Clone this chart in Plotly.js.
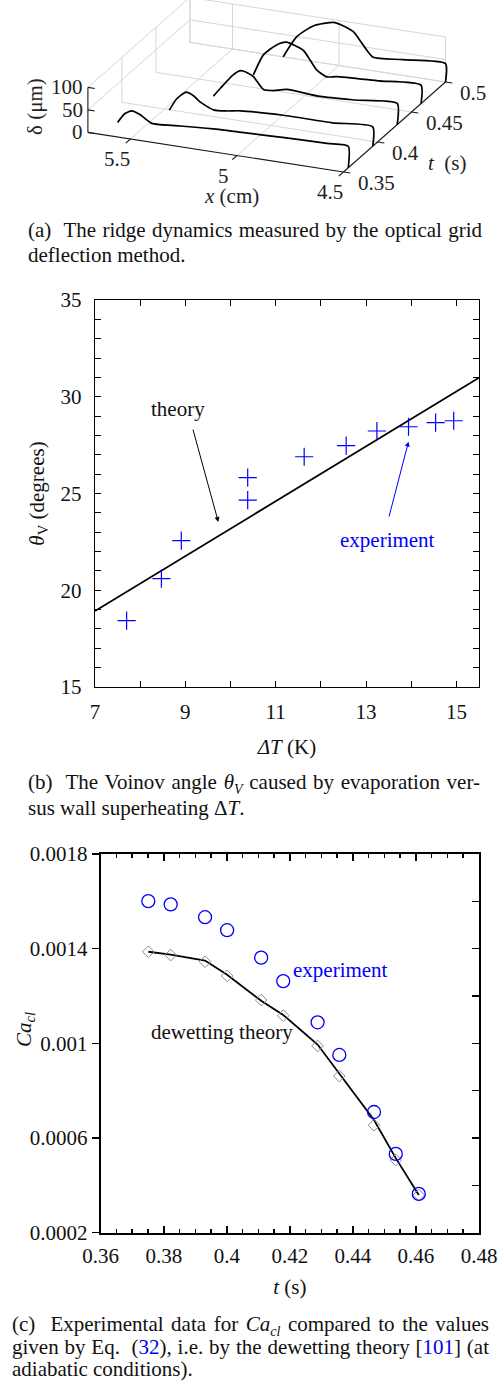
<!DOCTYPE html>
<html>
<head>
<meta charset="utf-8">
<script src="https://cdn.plot.ly/plotly-3.0.1.min.js"></script>
<style>
  html, body { margin: 0; padding: 0; background: #fff; }
  #wrap { position: relative; width: 500px; height: 1389px; }
  #chart { position: absolute; left: 0; top: 0; width: 500px; height: 1389px; }
  .cap { position: absolute; font-family: "Liberation Serif", "Times New Roman", serif; font-size: 21px; color: #111; }
  .cap .ln { display: block; text-align: justify; text-align-last: justify; white-space: nowrap; }
  .cap .last { display: block; text-align: left; white-space: nowrap; }
  .cap sub { font-size: 14px; line-height: 0; }
  .blue { color: #0000ee; }
</style>
</head>
<body>
<div id="wrap">
  <div id="chart"></div>
  <div class="cap" style="left:28px; top:218px; width:454px; line-height:25px;">
    <span class="ln">(a)&nbsp; The ridge dynamics measured by the optical grid</span>
    <span class="last">deflection method.</span>
  </div>
  <div class="cap" style="left:28px; top:769px; width:452px; line-height:26px;">
    <span class="ln">(b)&nbsp; The Voinov angle <i>θ</i><sub><i>V</i></sub> caused by evaporation ver-</span>
    <span class="last">sus wall superheating Δ<i>T</i>.</span>
  </div>
  <div class="cap" style="left:12px; top:1313px; width:477px; line-height:22.5px;">
    <span class="ln">(c)&nbsp; Experimental data for <i>Ca<sub>cl</sub></i> compared to the values</span>
    <span class="ln">given by Eq.&nbsp; (<span class="blue">32</span>), i.e. by the dewetting theory [<span class="blue">101</span>] (at</span>
    <span class="last">adiabatic conditions).</span>
  </div>
</div>
<script>
// ---------- Panel (a): ridge profiles delta(x) at several times ----------
const ridgeTimes = [0.357, 0.393, 0.429, 0.464, 0.5];
const ridgeX1 = [5.583, 5.55, 5.517, 5.48, 5.446, 5.423, 5.384, 5.29, 5.134, 5.0, 4.8, 4.6, 4.5, 4.5];
const ridgeZ1 = [21, 43, 52, 47, 37, 31, 31, 35, 40, 42, 45, 47, 48, 0];
const ridgeX2 = [5.455, 5.42, 5.376, 5.34, 5.311, 5.248, 5.185, 5.123, 4.92, 4.69, 4.5, 4.5];
const ridgeZ2 = [10, 38, 56, 50, 39, 26, 28, 33, 38, 38, 43, 0];
const ridgeX3 = [5.363, 5.33, 5.27, 5.235, 5.2, 5.175, 5.128, 5.081, 5.019, 4.862, 4.7, 4.5, 4.5];
const ridgeZ3 = [0, 20, 54, 66, 63, 57, 32, 33, 40, 36, 40, 47, 0];
const ridgeX4 = [5.287, 5.24, 5.18, 5.133, 5.053, 5.02, 4.99, 4.943, 4.896, 4.7, 4.5, 4.5];
const ridgeZ4 = [6, 54, 80, 90, 78, 58, 39, 27, 31, 36, 41, 0];
const ridgeX5 = [5.262, 5.199, 5.121, 5.019, 4.933, 4.9, 4.87, 4.839, 4.7, 4.5, 4.5];
const ridgeZ5 = [0, 49, 79, 94, 80, 62, 44, 30, 35, 41, 0];
const ridgeXs = [ridgeX1, ridgeX2, ridgeX3, ridgeX4, ridgeX5];
const ridgeZs = [ridgeZ1, ridgeZ2, ridgeZ3, ridgeZ4, ridgeZ5];
const xRangeA = [4.5, 5.7];
const tRangeA = [0.35, 0.5];
const zRangeA = [0, 100];
const xTicksA = [4.5, 5, 5.5];
const xTickTextA = ['4.5', '5', '5.5'];
const tTicksA = [0.35, 0.4, 0.45, 0.5];
const tTickTextA = ['0.35', '0.4', '0.45', '0.5'];
const zTicksA = [0, 50, 100];
const zTickTextA = ['0', '50', '100'];

// ---------- Panel (b): Voinov angle vs superheating ----------
const dT_exp = [7.70, 8.47, 8.91, 10.38, 10.38, 11.63, 12.56, 13.24, 13.94, 14.54, 14.94];
const theta_exp = [18.43, 20.6, 22.56, 24.66, 25.82, 26.9, 27.47, 28.23, 28.45, 28.66, 28.76];
const dT_theory = [7, 15.5];
const theta_theory = [18.93, 30.98];
const xTicksB = [7, 9, 11, 13, 15];
const yTicksB = [15, 20, 25, 30, 35];

// ---------- Panel (c): Ca_cl vs time ----------
const t_exp = [0.3751, 0.3822, 0.3931, 0.4001, 0.4109, 0.4179, 0.4288, 0.4357, 0.4467, 0.4536, 0.4609];
const ca_exp = [0.001601, 0.001587, 0.001533, 0.001478, 0.001362, 0.001263, 0.001089, 0.000951, 0.000710, 0.000533, 0.000364];
const t_dew = [0.3751, 0.3822, 0.3931, 0.4001, 0.4109, 0.4179, 0.4288, 0.4357, 0.4467, 0.4536, 0.4609];
const ca_dew = [0.001387, 0.001373, 0.001345, 0.001285, 0.001183, 0.001117, 0.000989, 0.000862, 0.000654, 0.000507, 0.000359];
const ca_dewLine = [0.001387, 0.001375, 0.001350, 0.001290, 0.001180, 0.001120, 0.000995, 0.000874, 0.000676, 0.000515, 0.000359];
const xTicksC = [0.36, 0.38, 0.4, 0.42, 0.44, 0.46, 0.48];
const xTickTextC = ['0.36', '0.38', '0.4', '0.42', '0.44', '0.46', '0.48'];
const yTicksC = [0.0002, 0.0006, 0.001, 0.0014, 0.0018];
const yTickTextC = ['0.0002', '0.0006', '0.001', '0.0014', '0.0018'];

const serif = '"Liberation Serif", "Times New Roman", serif';
const H = 1389;
const py = p => 1 - p / H;

// ---- oblique (orthographic) view used for panel (a), drawn on a hidden 2D axis pair ----
const view = {
  origin: [343.5, 172],     // where the (x min, t min, delta 0) corner lands in the panel frame
  perX: [-213, -33],        // frame units per cm of x
  perT: [680, -600],        // frame units per s of t
  perZ: [0, -0.45]          // frame units per micrometre of delta
};
function proj(x, t, z) {
  const dx = x - xRangeA[0], dt = t - tRangeA[0];
  return [
    view.origin[0] + dx * view.perX[0] + dt * view.perT[0] + z * view.perZ[0],
    view.origin[1] + dx * view.perX[1] + dt * view.perT[1] + z * view.perZ[1]
  ];
}
function segs(list) {
  const u = [], v = [];
  list.forEach(s => {
    const a = proj(...s[0]), b = proj(...s[1]);
    u.push(a[0], b[0], null); v.push(a[1], b[1], null);
  });
  return { u, v };
}
const [x0, x1] = xRangeA, [t0, t1] = tRangeA, [z0, z1] = zRangeA;
const gridList = [];
[...xTicksA, x1].forEach(x => gridList.push([[x, t1, z0], [x, t1, z1]]));
zTicksA.forEach(z => gridList.push([[x0, t1, z], [x1, t1, z]]));
[...tTicksA.slice(1)].forEach(t => gridList.push([[x1, t, z0], [x1, t, z1]]));
zTicksA.slice(1).forEach(z => gridList.push([[x1, t0, z], [x1, t1, z]]));
xTicksA.slice(1).forEach(x => gridList.push([[x, t0, z0], [x, t1, z0]]));
tTicksA.slice(1).forEach(t => gridList.push([[x0, t, z0], [x1, t, z0]]));
const grid = segs(gridList);

const axisList = [
  [[x0, t0, z0], [x1, t0, z0]],
  [[x0, t0, z0], [x0, t1, z0]],
  [[x1, t0, z0], [x1, t0, z1]]
];
const tickLenT = 0.007, tickLenX = 0.032;
xTicksA.forEach(x => axisList.push([[x, t0, z0], [x, t0 - tickLenT, z0]]));
tTicksA.forEach(t => axisList.push([[x0, t, z0], [x0 - tickLenX, t, z0]]));
zTicksA.forEach(z => axisList.push([[x1, t0, z], [x1 - tickLenX, t0, z]]));
const axes3 = segs(axisList);

const traces = [];
traces.push({ type: 'scatter', mode: 'lines', xaxis: 'x3', yaxis: 'y4', x: grid.u, y: grid.v,
  line: { color: '#d6d6d6', width: 1 }, showlegend: false, hoverinfo: 'skip', connectgaps: false });
traces.push({ type: 'scatter', mode: 'lines', xaxis: 'x3', yaxis: 'y4', x: axes3.u, y: axes3.v,
  line: { color: '#1a1a1a', width: 1.1 }, showlegend: false, hoverinfo: 'skip', connectgaps: false });
ridgeTimes.forEach((t, i) => {
  const pts = ridgeXs[i].map((x, k) => proj(x, t, ridgeZs[i][k]));
  traces.push({ type: 'scatter', mode: 'lines', xaxis: 'x3', yaxis: 'y4',
    x: pts.map(p => p[0]), y: pts.map(p => p[1]),
    line: { color: '#000', width: 1.7, shape: 'spline', smoothing: 0.6 }, showlegend: false, hoverinfo: 'skip' });
});

traces.push({
  type: 'scatter', mode: 'lines', xaxis: 'x', yaxis: 'y',
  x: dT_theory, y: theta_theory, line: { color: '#000', width: 1.8 }, showlegend: false, hoverinfo: 'skip'
});
traces.push({
  type: 'scatter', mode: 'markers', xaxis: 'x', yaxis: 'y',
  x: dT_exp, y: theta_exp,
  marker: { symbol: 'cross-thin-open', size: 13, color: '#0000ff', line: { color: '#0000ff', width: 1.2 } },
  showlegend: false, hoverinfo: 'skip'
});

traces.push({
  type: 'scatter', mode: 'lines', xaxis: 'x2', yaxis: 'y2',
  x: t_dew, y: ca_dewLine, line: { color: '#000', width: 1.8 }, showlegend: false, hoverinfo: 'skip'
});
traces.push({
  type: 'scatter', mode: 'markers', xaxis: 'x2', yaxis: 'y2',
  x: t_dew, y: ca_dew,
  marker: { symbol: 'diamond-open', size: 9, color: '#8a8a8a', line: { color: '#8a8a8a', width: 1 } },
  showlegend: false, hoverinfo: 'skip'
});
traces.push({
  type: 'scatter', mode: 'markers', xaxis: 'x2', yaxis: 'y2',
  x: t_exp, y: ca_exp,
  marker: { symbol: 'circle-open', size: 13, color: '#0000ff', line: { color: '#0000ff', width: 1.3 } },
  showlegend: false, hoverinfo: 'skip'
});
traces.push({
  type: 'scatter', mode: 'markers', xaxis: 'x2', yaxis: 'y3',
  x: [], y: [], showlegend: false, hoverinfo: 'skip'
});

const labFont = { family: serif, size: 21, color: '#222' };
const annotations = [];
xTicksA.forEach((x, i) => {
  const p = proj(x, t0, z0);
  annotations.push({ xref: 'x3', yref: 'y4', x: p[0], y: p[1], text: xTickTextA[i], showarrow: false,
    xanchor: 'center', yanchor: 'middle', xshift: -14, yshift: -20, font: labFont });
});
tTicksA.forEach((t, i) => {
  const p = proj(x0, t, z0);
  annotations.push({ xref: 'x3', yref: 'y4', x: p[0], y: p[1], text: tTickTextA[i], showarrow: false,
    xanchor: 'left', yanchor: 'middle', xshift: 12, yshift: -11, font: labFont });
});
zTicksA.forEach((z, i) => {
  const p = proj(x1, t0, z);
  annotations.push({ xref: 'x3', yref: 'y4', x: p[0], y: p[1], text: zTickTextA[i], showarrow: false,
    xanchor: 'right', yanchor: 'middle', xshift: -3, yshift: 0, font: labFont });
});
annotations.push(
  { xref: 'paper', yref: 'paper', x: 35 / 500, y: py(107), xanchor: 'center', yanchor: 'middle',
    text: 'δ (μm)', textangle: -90, showarrow: false, font: labFont },
  { xref: 'paper', yref: 'paper', x: 231 / 500, y: py(196), xanchor: 'center', yanchor: 'middle',
    text: '<i>x</i> (cm)', showarrow: false, font: labFont },
  { xref: 'paper', yref: 'paper', x: 447 / 500, y: py(163), xanchor: 'center', yanchor: 'middle',
    text: '<i>t</i>&nbsp; (s)', showarrow: false, font: labFont },
  { xref: 'x', yref: 'y', x: 8.83, y: 29.37, text: 'theory', showarrow: false,
    font: { family: serif, size: 21, color: '#111' } },
  { xref: 'x', yref: 'y', x: 9.73, y: 23.53, ax: 9.16, ay: 28.38, axref: 'x', ayref: 'y', text: '',
    showarrow: true, arrowhead: 2, arrowsize: 1, arrowwidth: 1, arrowcolor: '#000' },
  { xref: 'x', yref: 'y', x: 13.48, y: 22.6, text: 'experiment', showarrow: false,
    font: { family: serif, size: 21, color: '#0000ff' } },
  { xref: 'x', yref: 'y', x: 13.94, y: 27.68, ax: 13.5, ay: 23.73, axref: 'x', ayref: 'y', text: '',
    showarrow: true, arrowhead: 2, arrowsize: 1, arrowwidth: 1, arrowcolor: '#0000ff' },
  { xref: 'x2', yref: 'y2', x: 0.4204, y: 0.00131, xanchor: 'left', text: 'experiment', showarrow: false,
    font: { family: serif, size: 21, color: '#0000ff' } },
  { xref: 'x2', yref: 'y2', x: 0.3986, y: 0.001047, text: 'dewetting theory', showarrow: false,
    font: { family: serif, size: 21, color: '#111' } },
  { xref: 'paper', yref: 'paper', x: 25 / 500, y: py(1030), xanchor: 'center', yanchor: 'middle',
    text: '<i>Ca</i><sub><i>cl</i></sub>', textangle: -90, showarrow: false,
    font: { family: serif, size: 21, color: '#111' } }
);

const layout = {
  width: 500, height: 1389,
  margin: { l: 0, r: 0, t: 0, b: 0 },
  paper_bgcolor: '#fff', plot_bgcolor: 'rgba(0,0,0,0)',
  font: { family: serif, size: 21, color: '#111' },
  showlegend: false,
  xaxis3: { domain: [0, 1], range: [0, 500], visible: false, fixedrange: true, anchor: 'y4' },
  yaxis4: { domain: [py(205), 1], range: [205, 0], visible: false, fixedrange: true, anchor: 'x3' },
  xaxis: {
    domain: [0.19, 0.958], range: [7, 15.5], tickvals: xTicksB,
    ticks: 'inside', ticklen: 6, tickwidth: 1, tickcolor: '#000',
    minor: { dtick: 1, tick0: 7, ticks: 'inside', ticklen: 6, tickwidth: 1, tickcolor: '#000' },
    showline: true, linecolor: '#000', linewidth: 1.3, mirror: 'ticks',
    showgrid: false, zeroline: false, ticklabelstandoff: 5,
    tickfont: { family: serif, size: 21, color: '#111' },
    title: { text: '<i>ΔT</i> (K)', font: { family: serif, size: 21, color: '#111' }, standoff: 16 },
    anchor: 'y'
  },
  yaxis: {
    domain: [py(687), py(300)], range: [15, 35], tickvals: yTicksB,
    ticks: 'inside', ticklen: 6, tickwidth: 1, tickcolor: '#000',
    minor: { dtick: 1, tick0: 15, ticks: 'inside', ticklen: 6, tickwidth: 1, tickcolor: '#000' },
    showline: true, linecolor: '#000', linewidth: 1.3, mirror: 'ticks',
    showgrid: false, zeroline: false, ticklabelstandoff: 8,
    tickfont: { family: serif, size: 21, color: '#111' },
    title: { text: '<i>θ</i><sub>V</sub> (degrees)', font: { family: serif, size: 21, color: '#111' }, standoff: 10 },
    anchor: 'x'
  },
  xaxis2: {
    domain: [0.2014, 0.958], range: [0.36, 0.48], tickvals: xTicksC, ticktext: xTickTextC,
    ticks: 'inside', ticklen: 7, tickwidth: 1.5, tickcolor: '#000',
    minor: { dtick: 0.005, tick0: 0.36, ticks: 'inside', ticklen: 4, tickwidth: 1.5, tickcolor: '#000' },
    showline: true, linecolor: '#000', linewidth: 2, mirror: 'ticks',
    showgrid: false, zeroline: false, ticklabelstandoff: 3,
    tickfont: { family: serif, size: 21, color: '#111' },
    title: { text: '<i>t</i> (s)', font: { family: serif, size: 21, color: '#111' }, standoff: 12 },
    anchor: 'y2'
  },
  yaxis2: {
    domain: [py(1232.7), py(854)], range: [0.0002, 0.0018], tickvals: yTicksC, ticktext: yTickTextC,
    ticks: 'outside', ticklen: 7, tickwidth: 1.5, tickcolor: '#000',
    showline: true, linecolor: '#000', linewidth: 2, mirror: true,
    showgrid: false, zeroline: false,
    tickfont: { family: serif, size: 21, color: '#111' },
    anchor: 'x2'
  },
  yaxis3: {
    overlaying: 'y2', side: 'right', anchor: 'x2', range: [0.0002, 0.0018],
    dtick: 0.0002, tick0: 0.0002, ticks: 'inside', ticklen: 7, tickwidth: 1.5, tickcolor: '#000',
    showticklabels: false, showline: false, showgrid: false, zeroline: false
  },
  annotations: annotations
};

Plotly.newPlot('chart', traces, layout, { displayModeBar: false, staticPlot: true });
</script>
</body>
</html>
